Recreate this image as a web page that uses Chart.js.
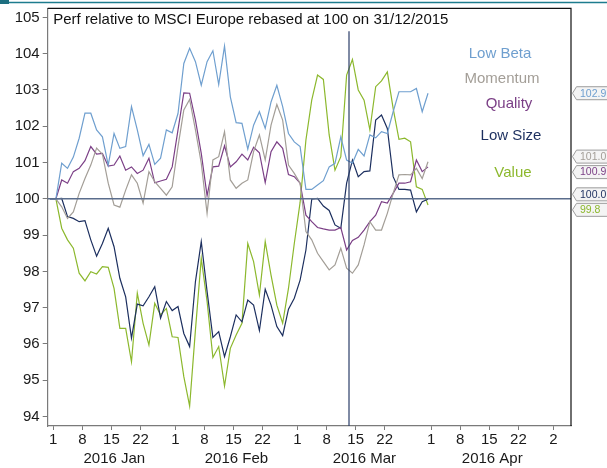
<!DOCTYPE html>
<html><head><meta charset="utf-8">
<script src="https://cdn.jsdelivr.net/npm/chart.js@4/dist/chart.umd.min.js"></script>
<style>html,body{margin:0;padding:0;background:#fff;overflow:hidden}#wrap{width:607px;height:468px;position:relative}</style>
</head><body><div id="wrap"><canvas id="c" width="607" height="468"></canvas></div>
<script>
// ---- data ----
const dates = ["2015-12-31","2016-01-01","2016-01-04","2016-01-05","2016-01-06","2016-01-07","2016-01-08","2016-01-11","2016-01-12","2016-01-13","2016-01-14","2016-01-15","2016-01-18","2016-01-19","2016-01-20","2016-01-21","2016-01-22","2016-01-25","2016-01-26","2016-01-27","2016-01-28","2016-01-29","2016-02-01","2016-02-02","2016-02-03","2016-02-04","2016-02-05","2016-02-08","2016-02-09","2016-02-10","2016-02-11","2016-02-12","2016-02-15","2016-02-16","2016-02-17","2016-02-18","2016-02-19","2016-02-22","2016-02-23","2016-02-24","2016-02-25","2016-02-26","2016-02-29","2016-03-01","2016-03-02","2016-03-03","2016-03-04","2016-03-07","2016-03-08","2016-03-09","2016-03-10","2016-03-11","2016-03-14","2016-03-15","2016-03-16","2016-03-17","2016-03-18","2016-03-21","2016-03-22","2016-03-23","2016-03-24","2016-03-25","2016-03-28","2016-03-29","2016-03-30","2016-03-31"];
const lowBeta = [100,100,100.98,100.84,101.15,101.67,102.36,102.36,101.90,101.71,100.93,101.80,101.39,101.44,102.54,101.90,101.19,101.50,100.95,101.12,101.90,101.82,102.35,103.73,104.15,103.78,103.13,103.78,104.08,103.15,104.21,102.81,102.10,102.08,101.37,102.03,102.40,101.94,102.67,103.13,102.54,101.80,101.57,101.44,100.26,100.26,100.38,100.50,100.88,100.98,101.71,101.07,100.98,101.36,101.18,101.76,101.68,101.85,101.80,102.40,102.95,102.95,102.95,103.04,102.40,102.91];
const momentum = [100,100,99.78,99.46,99.64,100.15,100.56,100.93,101.40,101.23,100.43,99.83,99.77,100.24,100.66,100.43,99.88,100.75,100.47,100.29,100.10,100.33,101.44,102.45,102.74,101.90,100.98,99.60,101.07,101.16,101.85,100.52,100.29,100.43,100.52,101.30,101.76,101.07,102.03,102.60,102.17,100.93,100.70,100.43,99.10,98.87,98.50,98.27,98.04,98.18,98.64,98.09,97.95,98.18,98.73,99.37,99.14,99.14,99.60,100.15,100.66,100.67,100.66,100.84,100.56,101.02];
const quality = [100,100,100.52,100.43,100.75,100.84,101.05,101.44,101.23,101.25,100.90,100.93,101.18,100.79,100.88,100.70,100.79,101.12,100.44,100.49,100.54,100.88,101.90,102.92,102.91,102.17,101.25,100.09,100.88,100.90,101.46,100.88,101.02,101.23,101.07,101.42,101.27,100.45,101.30,101.57,101.39,100.67,100.61,100.43,99.55,99.37,99.21,99.17,99.14,99.14,99.21,98.59,98.85,98.94,99.14,99.37,99.55,99.92,99.88,100.15,100.43,100.43,100.47,101.07,100.75,100.88];
const lowSize = [100,100,100.01,99.51,99.46,99.37,99.40,98.87,98.42,98.77,99.19,98.68,97.81,97.30,96.16,97.10,97.05,97.30,97.58,96.71,97.17,96.92,97.03,96.29,95.93,97.72,98.82,97.45,96.18,96.34,95.65,96.20,96.80,96.61,97.21,97.07,96.37,97.51,97.07,96.48,96.23,96.96,97.26,97.76,98.59,99.99,100.01,99.80,99.68,99.28,99.19,100.43,101.07,100.61,100.75,100.77,102.17,102.31,101.94,100.61,100.26,100.26,100.24,99.64,99.92,99.99];
const value = [100,100,99.19,98.87,98.64,97.95,97.74,97.99,97.93,98.13,98.11,97.53,96.43,96.43,95.51,97.40,96.57,95.97,97.12,96.80,96.98,96.20,96.18,95.10,94.29,96.39,98.36,97.17,95.63,95.93,94.84,95.88,96.25,96.57,98.77,98.27,97.35,98.82,97.90,97.07,96.57,97.53,98.77,99.90,101.62,102.72,103.41,103.29,101.76,100.79,101.16,103.41,103.84,103.00,102.72,101.90,103.09,103.25,103.50,102.49,101.64,101.67,101.57,100.33,100.26,99.83];
const seriesNames = ["Low Beta","Momentum","Quality","Low Size","Value"];
const tickDates = ["2016-01-01","2016-01-08","2016-01-15","2016-01-22","2016-02-01","2016-02-08","2016-02-15","2016-02-22","2016-03-01","2016-03-08","2016-03-15","2016-03-22","2016-04-01","2016-04-08","2016-04-15","2016-04-22","2016-05-02"];
const tickLabels = ["1","8","15","22","1","8","15","22","1","8","15","22","1","8","15","22","2"];
const monthLabels = ["2016 Jan","2016 Feb","2016 Mar","2016 Apr"];
const monthBounds = ["2016-01-01","2016-02-01","2016-03-01","2016-04-01","2016-05-02"];
const yTicks = [94,95,96,97,98,99,100,101,102,103,104,105];
const baseValue = 100;
const eventDate = "2016-03-14";
const titleText = "Perf relative to MSCI Europe rebased at 100 on 31/12/2015";

// ---- styles ----
const colors = ["#6f9fcf","#a39e97","#7b3f86","#1c2f5f","#8cb82d"];
const FONT = '"Liberation Sans", Arial, sans-serif';
const POINT_SHIFT = 0.45;  // points sit slightly right of the day tick
const EVENT_SHIFT = -0.14;

function bizIndex(s){
  const base = Date.UTC(2016,0,1);
  const d = Date.parse(s+"T00:00:00Z");
  const days = Math.round((d-base)/864e5);
  let n = 0;
  if (days >= 0) { for (let k=0;k<days;k++){ const wd=new Date(base+k*864e5).getUTCDay(); if(wd!==0&&wd!==6) n++; } }
  else { for (let k=-1;k>=days;k--){ const wd=new Date(base+k*864e5).getUTCDay(); if(wd!==0&&wd!==6) n--; } }
  return n;
}
const xs = dates.map(d => bizIndex(d) + POINT_SHIFT);
const tickVals = tickDates.map(bizIndex);
const monthMids = monthLabels.map((m,i)=> (bizIndex(monthBounds[i]) + bizIndex(monthBounds[i+1]))/2);
const allSeries = [lowBeta, momentum, quality, lowSize, value];

const datasets = allSeries.map((arr,i)=>({
  label: seriesNames[i],
  data: arr.map((v,j)=>({x: xs[j], y: v})),
  borderColor: colors[i], backgroundColor: colors[i],
  borderWidth: 1.2, pointRadius: 0, tension: 0, fill: false
}));

const XMIN = -0.96, XMAX = 89.04;

const decorPlugin = {
  id: 'decor',
  beforeDraw(chart){
    const ctx = chart.ctx;
    ctx.save();
    ctx.fillStyle = '#fff'; ctx.fillRect(0,0,chart.width,chart.height);
    ctx.strokeStyle = '#1d7c8e'; ctx.lineWidth = 1.5;
    ctx.beginPath(); ctx.moveTo(0,2.5); ctx.lineTo(chart.width,2.5); ctx.stroke();
    ctx.fillStyle = '#1d6f80'; ctx.fillRect(0,0,9,4);
    ctx.restore();
  },
  afterDatasetsDraw(chart){
    const ctx = chart.ctx, a = chart.chartArea;
    const ys = chart.scales.y, xsc = chart.scales.x;
    ctx.save();
    const y100 = ys.getPixelForValue(baseValue);
    ctx.strokeStyle = '#5a6d8c'; ctx.lineWidth = 1.6;
    ctx.beginPath(); ctx.moveTo(a.left, y100); ctx.lineTo(a.right, y100); ctx.stroke();
    const ex = xsc.getPixelForValue(bizIndex(eventDate) + EVENT_SHIFT);
    ctx.strokeStyle = '#2b3d68'; ctx.lineWidth = 1.2;
    ctx.beginPath(); ctx.moveTo(ex, a.top + 23); ctx.lineTo(ex, a.bottom); ctx.stroke();
    ctx.restore();
  },
  afterDraw(chart){
    const ctx = chart.ctx, a = chart.chartArea, ys = chart.scales.y;
    ctx.save();
    ctx.strokeStyle = '#111'; ctx.lineWidth = 1.2;
    ctx.beginPath(); ctx.moveTo(a.left, a.top); ctx.lineTo(a.right, a.top); ctx.lineTo(a.right, a.bottom); ctx.stroke();
    ctx.fillStyle = '#111'; ctx.font = '15px ' + FONT; ctx.textBaseline = 'middle'; ctx.textAlign = 'left';
    ctx.fillText(titleText, a.left + 5.5, a.top + 11.5);
    const legPos = [[500,54],[502,79],[509,104],[511,136],[513,172.5]];
    ctx.textAlign = 'center';
    seriesNames.forEach((n,i)=>{ ctx.fillStyle = colors[i]; ctx.fillText(n, legPos[i][0], legPos[i][1]); });
    const items = allSeries.map((arr,i)=>({i, v: arr[arr.length-1], y: ys.getPixelForValue(arr[arr.length-1])}));
    items.sort((p,q)=>p.y-q.y);
    const gap = 15.5;
    let groups = items.map(it=>({members:[it], c: it.y}));
    let changed = true;
    while (changed) {
      changed = false;
      for (let k=0;k<groups.length-1;k++){
        const g1 = groups[k], g2 = groups[k+1];
        const b1 = g1.c + (g1.members.length-1)*gap/2, t2 = g2.c - (g2.members.length-1)*gap/2;
        if (t2 - b1 < gap) {
          const m = g1.members.concat(g2.members);
          const c = m.reduce((s,it)=>s+it.y,0)/m.length;
          groups.splice(k,2,{members:m, c}); changed = true; break;
        }
      }
    }
    ctx.font = '10.5px ' + FONT; ctx.textAlign = 'left'; ctx.textBaseline = 'middle';
    groups.forEach(g=>{
      g.members.forEach((it,k)=>{
        const y = g.c + (k - (g.members.length-1)/2)*gap;
        const tip = a.right + 1.5, bx = a.right + 5.5, h = 6.5;
        ctx.beginPath(); ctx.moveTo(tip, y); ctx.lineTo(bx, y-h); ctx.lineTo(chart.width+5, y-h);
        ctx.lineTo(chart.width+5, y+h); ctx.lineTo(bx, y+h); ctx.closePath();
        ctx.fillStyle = '#f4f4f4'; ctx.fill();
        ctx.strokeStyle = '#9c9c9c'; ctx.lineWidth = 1; ctx.stroke();
        ctx.fillStyle = colors[it.i];
        ctx.fillText(it.v.toFixed(1), bx + 3.5, y + 0.5);
      });
    });
    ctx.restore();
  }
};

new Chart(document.getElementById('c'), {
  type: 'line',
  data: { datasets },
  options: {
    responsive: false, animation: false, devicePixelRatio: 1,
    layout: { padding: { top: 8.3, right: 36, left: 0, bottom: 0 } },
    plugins: { legend: { display: false }, tooltip: { enabled: false }, title: { display: false } },
    scales: {
      y: {
        type: 'linear', min: 93.74, max: 105.25, position: 'left',
        afterFit: s => { s.width = 47.7; s.paddingTop = 0; s.paddingBottom = 0; },
        afterBuildTicks: s => { s.ticks = yTicks.map(v=>({value:v})); },
        ticks: { color: '#1a1a1a', font: { family: FONT, size: 15 }, padding: 3 },
        grid: { drawOnChartArea: false, drawTicks: true, tickLength: 5, color: '#7a7a7a', lineWidth: 1 },
        border: { display: true, color: '#7a7a7a', width: 1.2 }
      },
      x: {
        type: 'linear', min: XMIN, max: XMAX, position: 'bottom', weight: 0,
        afterFit: s => { s.height = 24; s.paddingLeft = 0; s.paddingRight = 0; },
        afterBuildTicks: s => { s.ticks = tickVals.map(v=>({value:v})); },
        ticks: { autoSkip: false, maxRotation: 0, color: '#1a1a1a', font: { family: FONT, size: 15 }, padding: 1,
          callback: (v) => { const k = tickVals.indexOf(v); return k>=0 ? tickLabels[k] : ''; } },
        grid: { drawOnChartArea: false, drawTicks: true, tickLength: 4, color: '#7a7a7a' },
        border: { display: true, color: '#7a7a7a', width: 1.2 }
      },
      x2: {
        type: 'linear', min: XMIN, max: XMAX, position: 'bottom', weight: 1,
        afterFit: s => { s.height = 18; s.paddingLeft = 0; s.paddingRight = 0; },
        afterBuildTicks: s => { s.ticks = monthMids.map(v=>({value:v})); },
        ticks: { autoSkip: false, maxRotation: 0, color: '#1a1a1a', font: { family: FONT, size: 15 }, padding: 0,
          callback: (v) => { const k = monthMids.indexOf(v); return k>=0 ? monthLabels[k] : ''; } },
        grid: { display: false, drawTicks: false },
        border: { display: false }
      }
    }
  },
  plugins: [decorPlugin]
});
</script></body></html>
